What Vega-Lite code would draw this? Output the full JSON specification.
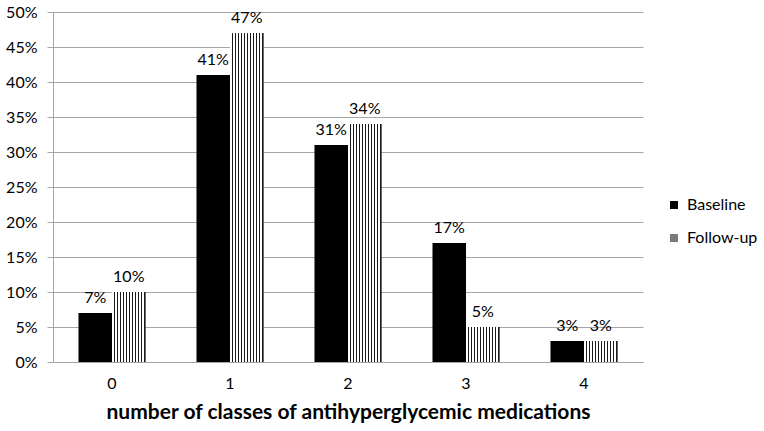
{
  "$schema": "https://vega.github.io/schema/vega-lite/v6.json",
  "width": 590,
  "height": 350,
  "autosize": {"type": "none"},
  "padding": {"left": 53, "top": 12, "right": 121, "bottom": 69},
  "background": "white",
  "config": {
    "font": "Lato",
    "view": {"stroke": null},
    "axis": {"labelColor": "#000", "titleColor": "#000", "labelFontSize": 16, "labelFont": "Lato"},
    "legend": {"labelColor": "#000"}
  },
  "data": {
    "values": [
      {"classes": "0", "group": "Baseline", "pct": 0.07},
      {"classes": "0", "group": "Follow-up", "pct": 0.10},
      {"classes": "1", "group": "Baseline", "pct": 0.41},
      {"classes": "1", "group": "Follow-up", "pct": 0.47},
      {"classes": "2", "group": "Baseline", "pct": 0.31},
      {"classes": "2", "group": "Follow-up", "pct": 0.34},
      {"classes": "3", "group": "Baseline", "pct": 0.17},
      {"classes": "3", "group": "Follow-up", "pct": 0.05},
      {"classes": "4", "group": "Baseline", "pct": 0.03},
      {"classes": "4", "group": "Follow-up", "pct": 0.03}
    ]
  },
  "encoding": {
    "x": {
      "field": "classes",
      "type": "nominal",
      "scale": {"paddingInner": 0.432, "paddingOuter": 0.216},
      "axis": {
        "labelAngle": 0,
        "ticks": false,
        "tickSize": 0,
        "labelPadding": 13,
        "domainColor": "#a6a6a6",
        "domainWidth": 1,
        "title": "number of classes of antihyperglycemic medications",
        "titleFontSize": 21,
        "titleFontWeight": "bold",
        "titleFont": "Lato",
        "titlePadding": 10
      }
    },
    "xOffset": {"field": "group", "sort": ["Baseline", "Follow-up"]},
    "y": {
      "field": "pct",
      "type": "quantitative",
      "scale": {"domain": [0, 0.5], "nice": false},
      "axis": {
        "values": [0, 0.05, 0.1, 0.15, 0.2, 0.25, 0.3, 0.35, 0.4, 0.45, 0.5],
        "format": ".0%",
        "title": null,
        "grid": true,
        "gridColor": "#a6a6a6",
        "gridWidth": 1,
        "domainColor": "#a6a6a6",
        "tickColor": "#a6a6a6",
        "tickSize": 6,
        "labelPadding": 10
      }
    }
  },
  "layer": [
    {
      "mark": {"type": "bar"},
      "encoding": {
        "fill": {
          "field": "group",
          "type": "nominal",
          "scale": {"domain": ["Baseline", "Follow-up"], "range": ["#000000", "#7a7a7a"]},
          "legend": {
            "orient": "none",
            "legendX": 613,
            "legendY": 185,
            "title": null,
            "symbolType": "square",
            "symbolSize": 64,
            "symbolStrokeWidth": 0,
            "labelFontSize": 16,
            "labelFont": "Lato",
            "labelOffset": 5,
            "rowPadding": 17,
            "padding": 0
          }
        }
      }
    },
    {
      "transform": [{"filter": "datum.group === 'Follow-up'"}],
      "mark": {
        "type": "bar",
        "fill": {
          "gradient": "linear",
          "x1": 0, "y1": 0, "x2": 1, "y2": 0,
          "stops": [
            {"offset": 0, "color": "#ffffff"},
            {"offset": 0.0564, "color": "#ffffff"}, {"offset": 0.0564, "color": "#1a1a1a"}, {"offset": 0.0909, "color": "#1a1a1a"}, {"offset": 0.0909, "color": "#ffffff"},
            {"offset": 0.1473, "color": "#ffffff"}, {"offset": 0.1473, "color": "#1a1a1a"}, {"offset": 0.1818, "color": "#1a1a1a"}, {"offset": 0.1818, "color": "#ffffff"},
            {"offset": 0.2382, "color": "#ffffff"}, {"offset": 0.2382, "color": "#1a1a1a"}, {"offset": 0.2727, "color": "#1a1a1a"}, {"offset": 0.2727, "color": "#ffffff"},
            {"offset": 0.3291, "color": "#ffffff"}, {"offset": 0.3291, "color": "#1a1a1a"}, {"offset": 0.3636, "color": "#1a1a1a"}, {"offset": 0.3636, "color": "#ffffff"},
            {"offset": 0.4200, "color": "#ffffff"}, {"offset": 0.4200, "color": "#1a1a1a"}, {"offset": 0.4545, "color": "#1a1a1a"}, {"offset": 0.4545, "color": "#ffffff"},
            {"offset": 0.5109, "color": "#ffffff"}, {"offset": 0.5109, "color": "#1a1a1a"}, {"offset": 0.5455, "color": "#1a1a1a"}, {"offset": 0.5455, "color": "#ffffff"},
            {"offset": 0.6018, "color": "#ffffff"}, {"offset": 0.6018, "color": "#1a1a1a"}, {"offset": 0.6364, "color": "#1a1a1a"}, {"offset": 0.6364, "color": "#ffffff"},
            {"offset": 0.6927, "color": "#ffffff"}, {"offset": 0.6927, "color": "#1a1a1a"}, {"offset": 0.7273, "color": "#1a1a1a"}, {"offset": 0.7273, "color": "#ffffff"},
            {"offset": 0.7836, "color": "#ffffff"}, {"offset": 0.7836, "color": "#1a1a1a"}, {"offset": 0.8182, "color": "#1a1a1a"}, {"offset": 0.8182, "color": "#ffffff"},
            {"offset": 0.8745, "color": "#ffffff"}, {"offset": 0.8745, "color": "#1a1a1a"}, {"offset": 0.9091, "color": "#1a1a1a"}, {"offset": 0.9091, "color": "#ffffff"},
            {"offset": 0.9655, "color": "#ffffff"}, {"offset": 0.9655, "color": "#1a1a1a"}, {"offset": 1, "color": "#1a1a1a"}
          ]
        }
      }
    },
    {
      "mark": {"type": "text", "dy": -10, "baseline": "alphabetic", "fontSize": 16, "font": "Lato", "color": "#000"},
      "encoding": {
        "text": {"field": "pct", "type": "quantitative", "format": ".0%"}
      }
    }
  ]
}
